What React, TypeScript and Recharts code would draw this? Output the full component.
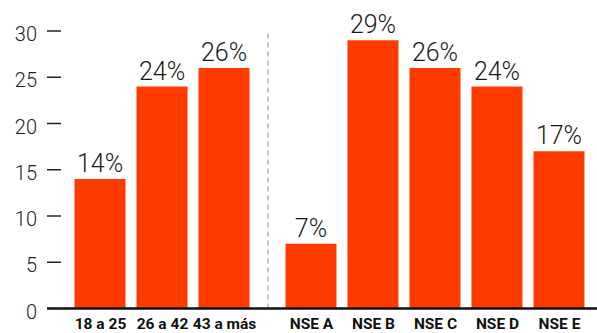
import React from "react";
import { BarChart, Bar, XAxis, YAxis, LabelList, ReferenceLine } from "recharts";

// Survey share by age bracket, then by socioeconomic level (NSE)
const categories = ["18 a 25", "26 a 42", "43 a más", "NSE A", "NSE B", "NSE C", "NSE D", "NSE E"];
const shares = [14, 24, 26, 7, 29, 26, 24, 17];
const groupOf = [0, 0, 0, 1, 1, 1, 1, 1];
const yTicks = [0, 5, 10, 15, 20, 25, 30];

// extra room (in slots) between the two groups
const GROUP_GAP = 0.403;

const data = categories.map((name, i) => ({
  name,
  pos: i + groupOf[i] * GROUP_GAP,
  value: shares[i],
}));

const divider = (data[2].pos + data[3].pos) / 2;
const nameAt = (pos: number) => data.find((d) => Math.abs(d.pos - pos) < 1e-6)?.name ?? "";

const FONT = "Roboto, 'Noto Sans', sans-serif";

function YTick({ x, y, payload }: any) {
  return (
    <g>
      <line x1={x} x2={x + 14} y1={y} y2={y} stroke="#222" strokeWidth={1.5} />
      <text x={x - 10} y={y + 10} textAnchor="end" fontSize={20} fontWeight={300} fill="#222" fontFamily={FONT}>
        {payload.value}
      </text>
    </g>
  );
}

function XTick({ x, y, payload }: any) {
  return (
    <text x={x} y={y + 20.5} textAnchor="middle" fontSize={15.5} fontWeight={700} fill="#111" fontFamily={FONT}>
      {nameAt(payload.value)}
    </text>
  );
}

export default function App() {
  return (
    <div style={{ position: "absolute", left: 0, top: 0, width: 597, height: 333, background: "#fff" }}>
      <BarChart width={597} height={333} data={data} margin={{ top: 31, right: 0, bottom: 0, left: 0 }}>
        <XAxis
          dataKey="pos"
          type="number"
          domain={[-0.863, 8.008]}
          ticks={data.map((d) => d.pos)}
          interval={0}
          height={24.5}
          axisLine={false}
          tickLine={false}
          tickSize={0}
          tickMargin={0}
          tick={<XTick />}
        />
        <YAxis
          domain={[0, 30]}
          ticks={yTicks}
          width={47}
          axisLine={false}
          tickLine={false}
          tickSize={0}
          tickMargin={0}
          tick={<YTick />}
        />
        <ReferenceLine x={divider} stroke="#b3b3b3" strokeWidth={1.5} strokeDasharray="5 4" />
        <Bar dataKey="value" fill="#ff3b00" barSize={51} isAnimationActive={false}>
          <LabelList
            dataKey="value"
            position="top"
            offset={7}
            formatter={(v: any) => `${v}%`}
            style={{ fontSize: 25, fontWeight: 300, fill: "#1a1a1a", fontFamily: FONT }}
          />
        </Bar>
        <ReferenceLine y={0} stroke="#111" strokeWidth={2.5} />
      </BarChart>
    </div>
  );
}
